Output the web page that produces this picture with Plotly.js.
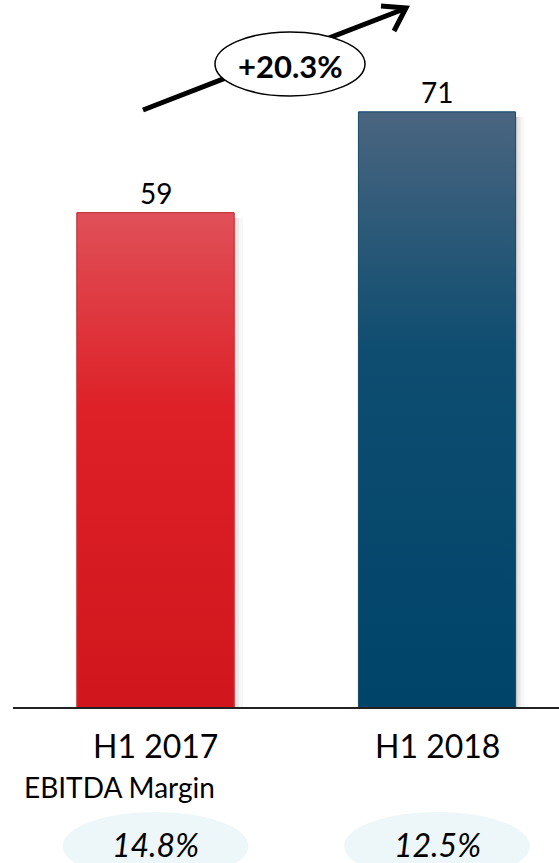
<!DOCTYPE html>
<html><head><meta charset="utf-8">
<script src="https://cdn.plot.ly/plotly-3.0.1.min.js"></script>
<style>html,body{margin:0;padding:0;background:#fff}#chart{width:559px;height:863px}</style>
</head><body><div id="chart"></div>
<script>
// ---- data ----
const categories = ['H1 2017', 'H1 2018'];
const values = [59, 71];
const valueLabels = ['59', '71'];
const marginTitle = 'EBITDA Margin';
const marginLabels = ['14.8%', '12.5%'];
const growthLabel = '+20.3%';

// ---- styles ----
const bottomColors = ['#d0161c', '#00446a'];
const midColors = ['#de2027', '#0e4d70'];
const topColors = ['#e05058', '#4a6580'];
const outlineColors = ['#c5343a', '#1d4f6f'];
const FONT = 'Lato, "Open Sans", sans-serif';

const W = 559, H = 863;
const X_RANGE = [-0.5524, 1.4334];
const Y_RANGE = [-18.47, 84.34];
const BAR_W = 0.558;
function px(x) { return x / W; }
function py(y) { return 1 - y / H; }

const xs = categories.map((c, i) => i);

const traces = [{
  type: 'bar', x: xs, y: values, width: BAR_W,
  marker: { color: bottomColors, line: { color: outlineColors, width: 1 } },
  hoverinfo: 'skip', showlegend: false
}];
xs.forEach((x, i) => {
  const l = x - BAR_W / 2, r = x + BAR_W / 2, v = values[i];
  traces.push({
    type: 'scatter', mode: 'lines',
    x: [l, r, r, l, l], y: [0, 0, v, v, 0],
    fill: 'toself',
    fillgradient: { type: 'vertical', colorscale: [[0, bottomColors[i]], [0.6, midColors[i]], [1, topColors[i]]] },
    line: { color: outlineColors[i], width: 1 },
    hoverinfo: 'skip', showlegend: false
  });
});

const shapes = [];
// soft shadows right of bars
xs.forEach((x, i) => {
  const r = x + BAR_W / 2, v = values[i];
  [[2, 0.10], [5, 0.06], [9, 0.03]].forEach(([w, a]) => {
    shapes.push({ type: 'rect', xref: 'x', yref: 'y', x0: r, x1: r + w / 281.5, y0: 0, y1: v - 0.6,
      fillcolor: 'rgba(0,0,0,' + a + ')', line: { width: 0 }, layer: 'below' });
  });
});
// baseline
shapes.push({ type: 'line', xref: 'paper', yref: 'y', x0: px(13), x1: 1, y0: 0, y1: 0, line: { color: '#222', width: 2 } });
// growth arrow
shapes.push({ type: 'line', xref: 'paper', yref: 'paper', x0: px(143), y0: py(110), x1: px(404), y1: py(9), line: { color: '#000', width: 5 } });
shapes.push({ type: 'path', xref: 'paper', yref: 'paper',
  path: 'M' + px(381) + ',' + py(6) + ' L' + px(406) + ',' + py(8) + ' L' + px(394) + ',' + py(31),
  line: { color: '#000', width: 5 } });
shapes.push({ type: 'circle', xref: 'paper', yref: 'paper', x0: px(215), x1: px(365), y0: py(32), y1: py(96),
  fillcolor: '#fff', line: { color: '#000', width: 1.5 } });
// margin ellipses
xs.forEach((x) => {
  shapes.push({ type: 'circle', xref: 'x', yref: 'paper', x0: x - 0.33, x1: x + 0.33, y0: py(812), y1: py(880),
    fillcolor: '#edf6f8', line: { width: 0 }, layer: 'below' });
});

const annotations = [];
xs.forEach((x, i) => {
  annotations.push({ xref: 'x', yref: 'y', x: x, y: values[i], yanchor: 'bottom', yshift: 1, showarrow: false,
    text: valueLabels[i], font: { size: 28, color: '#000', family: FONT } });
  annotations.push({ xref: 'x', yref: 'paper', x: x, y: py(745), yanchor: 'middle', xanchor: 'center', showarrow: false,
    text: categories[i], font: { size: 32, color: '#000', family: FONT } });
  annotations.push({ xref: 'x', yref: 'paper', x: x, y: py(844), yanchor: 'middle', xanchor: 'center', showarrow: false,
    text: '<i>' + marginLabels[i] + '</i>', font: { size: 32, color: '#000', family: FONT } });
});
annotations.push({ xref: 'paper', yref: 'paper', x: px(119), y: py(787), yanchor: 'middle', xanchor: 'center', showarrow: false,
  text: marginTitle, font: { size: 28, color: '#000', family: FONT } });
annotations.push({ xref: 'paper', yref: 'paper', x: px(290), y: py(66), yanchor: 'middle', xanchor: 'center', showarrow: false,
  text: '<b>' + growthLabel + '</b>', font: { size: 31, color: '#000', family: FONT } });

const layout = {
  width: W, height: H,
  margin: { l: 0, r: 0, t: 0, b: 0 },
  paper_bgcolor: '#fff', plot_bgcolor: '#fff',
  xaxis: { range: X_RANGE, visible: false, fixedrange: true },
  yaxis: { range: Y_RANGE, visible: false, fixedrange: true },
  shapes: shapes, annotations: annotations, showlegend: false
};
Plotly.newPlot('chart', traces, layout, { displayModeBar: false, staticPlot: true });
</script></body></html>
